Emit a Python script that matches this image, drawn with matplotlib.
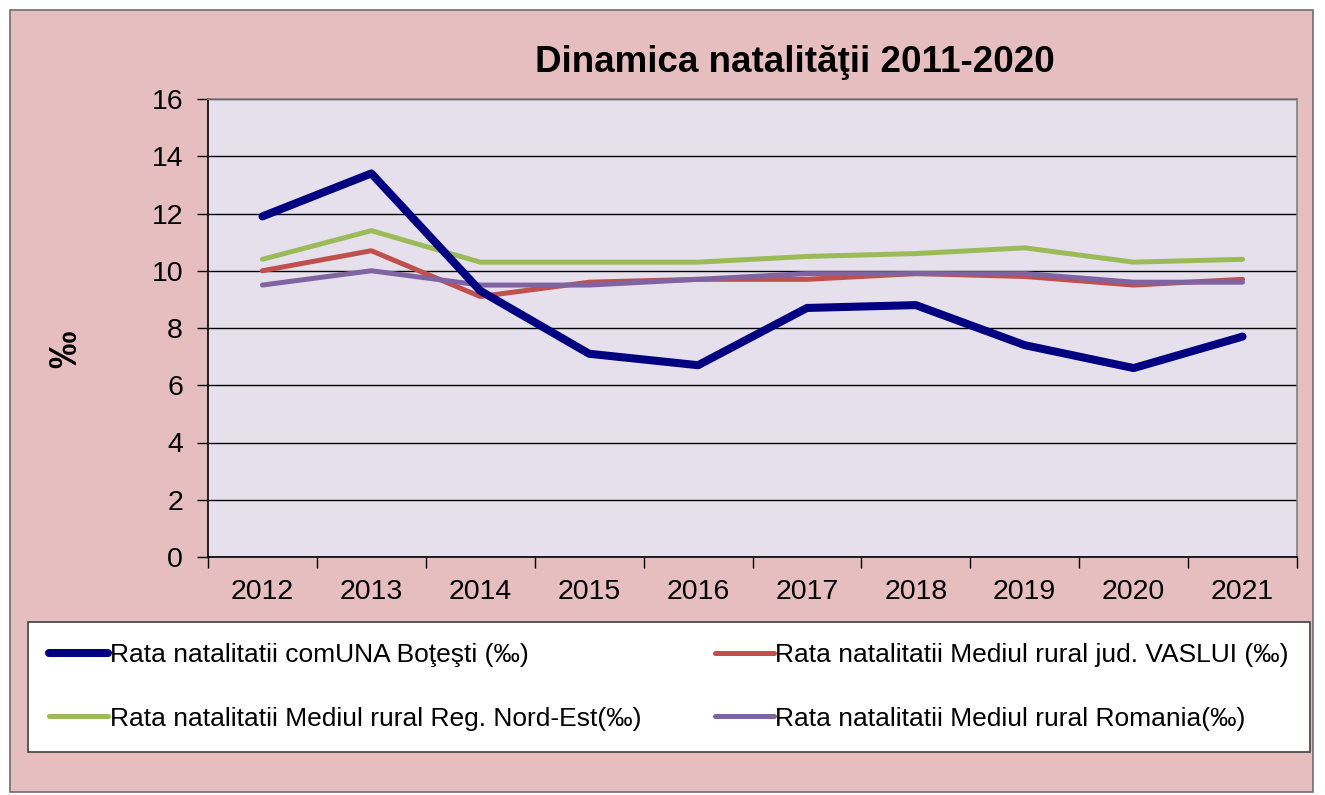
import matplotlib.pyplot as plt
import numpy as np
from matplotlib.patches import Rectangle

plt.rcParams['font.family'] = ['Liberation Sans', 'DejaVu Sans']

years = ['2012', '2013', '2014', '2015', '2016', '2017', '2018', '2019', '2020', '2021']
botesti = [11.9, 13.4, 9.3, 7.1, 6.7, 8.7, 8.8, 7.4, 6.6, 7.7]
vaslui = [10.0, 10.7, 9.1, 9.6, 9.7, 9.7, 9.9, 9.8, 9.5, 9.7]
nord_est = [10.4, 11.4, 10.3, 10.3, 10.3, 10.5, 10.6, 10.8, 10.3, 10.4]
romania = [9.5, 10.0, 9.5, 9.5, 9.7, 9.9, 9.9, 9.9, 9.6, 9.6]

labels = ['Rata natalitatii comUNA Boţeşti (‰)',
          'Rata natalitatii Mediul rural jud. VASLUI (‰)',
          'Rata natalitatii Mediul rural Reg. Nord-Est(‰)',
          'Rata natalitatii Mediul rural Romania(‰)']

W, H = 1325, 795
fig = plt.figure(figsize=(W / 100, H / 100), dpi=100)
fig.patch.set_facecolor('white')

# pink chart area with thin border
fig.patches.append(Rectangle((10 / W, 1 - 792 / H), 1303 / W, 782 / H,
                             transform=fig.transFigure, facecolor='#E6BEC0',
                             edgecolor='#6e6e6e', linewidth=1.2, zorder=-10))

ax = fig.add_axes([208 / W, 1 - 557 / H, 1089 / W, 458 / H])
ax.set_facecolor('#E6E0EC')

x = np.arange(len(years))
l1, = ax.plot(x, botesti, color='#000080', lw=5.8, solid_capstyle='round', zorder=5)
l2, = ax.plot(x, vaslui, color='#C0504D', lw=3.6, solid_capstyle='round', zorder=3)
l3, = ax.plot(x, nord_est, color='#9BBB59', lw=3.6, solid_capstyle='round', zorder=3)
l4, = ax.plot(x, romania, color='#8064A2', lw=3.6, solid_capstyle='round', zorder=4)

ax.set_ylim(0, 16)
ax.set_yticks(np.arange(0, 17, 2))
ax.set_xlim(-0.5, len(years) - 0.5)
ax.set_xticks(np.arange(-0.5, len(years), 1))
ax.set_xticklabels([])
ax.set_xticks(x, minor=True)
ax.set_xticklabels(years, minor=True)
ax.tick_params(axis='x', which='major', length=8, width=1, direction='out')
ax.tick_params(axis='x', which='minor', length=0, pad=16, labelsize=20.5)
ax.tick_params(axis='y', length=8, width=1, pad=10, labelsize=20.5)

ax.grid(axis='y', color='black', lw=1)
ax.set_axisbelow(True)
ax.spines['left'].set_color('black')
ax.spines['bottom'].set_color('black')
ax.spines['top'].set_color('#808080')
ax.spines['right'].set_color('#808080')
for s in ax.spines.values():
    s.set_linewidth(1.2)

fig.text(795 / W, 1 - 63 / H, 'Dinamica natalităţii 2011-2020', ha='center', va='center',
         fontsize=26.5, fontweight='bold')
fig.text(66 / W, 1 - 349 / H, '‰', ha='center', va='center', rotation=90,
         fontsize=27, fontweight='bold')

# legend fills column-first, so reorder to get the row-wise layout of the original
lines = [l1, l2, l3, l4]
order = [0, 2, 1, 3]
leg = fig.legend([lines[i] for i in order], [labels[i] for i in order], ncol=2,
                 loc='upper left', bbox_to_anchor=(28 / W, 1 - 622 / H, 1282 / W, 0.0),
                 mode='expand', fontsize=19, handlelength=2.25, handletextpad=0.05,
                 borderaxespad=0, labelspacing=1.5, fancybox=False, framealpha=1,
                 edgecolor='#404040', borderpad=0.8)
leg.get_frame().set_linewidth(1.2)

fig.savefig('out.png', dpi=100)
